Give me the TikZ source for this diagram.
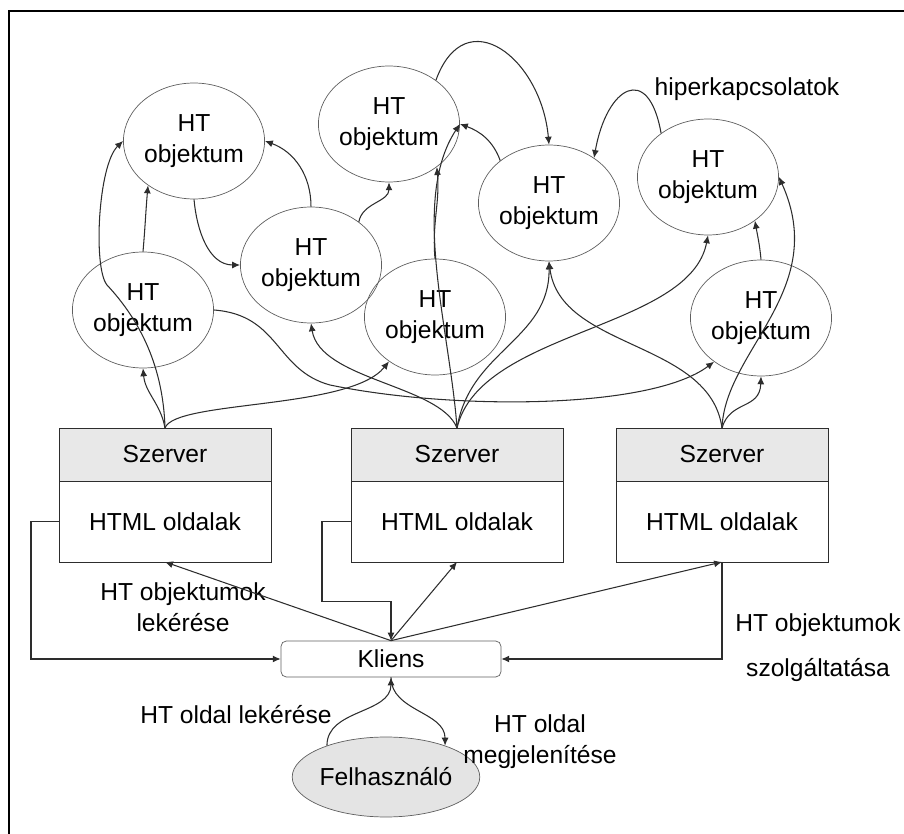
\documentclass[tikz,border=0pt]{standalone}
\usepackage{fontspec}
\setmainfont{Liberation Sans}
\usetikzlibrary{arrows.meta,positioning,shapes.geometric}
\definecolor{keret}{RGB}{95,95,95}
\definecolor{vonal}{RGB}{45,45,45}
\definecolor{fejlec}{RGB}{232,232,232}
\definecolor{felhszin}{RGB}{228,228,228}

\tikzset{
	objektum/.style={ellipse, draw=keret, minimum width=2.64cm, minimum height=2.32cm, inner sep=0pt, align=center},
	szfej/.style={rectangle, draw=vonal, fill=fejlec, minimum width=4.24cm, minimum height=1.06cm, outer sep=0pt},
	szlap/.style={rectangle, draw=vonal, fill=white, minimum width=4.24cm, minimum height=1.62cm, outer sep=0pt},
	kapocs/.style={vonal, line width=0.6pt, ->},
	felirat/.style={align=center, inner sep=0pt},
}

\begin{document}
\begin{tikzpicture}[x=0.02cm, y=-0.02cm, >={Latex[length=4.5pt,width=4pt]}, font=\fontsize{14}{17.6}\selectfont]

	\useasboundingbox (0,0) rectangle (904,834);
	\draw[line width=1pt] (9,834) -- (9,11) -- (904,11);

	% HT objektumok
	\node[objektum] (ht1) at (194,141) {HT\\objektum};
	\node[objektum] (ht2) at (143,310) {HT\\objektum};
	\node[objektum] (ht3) at (311,265) {HT\\objektum};
	\node[objektum] (ht4) at (389,124) {HT\\objektum};
	\node[objektum] (ht5) at (435,317) {HT\\objektum};
	\node[objektum] (ht6) at (549,203) {HT\\objektum};
	\node[objektum] (ht7) at (708,177) {HT\\objektum};
	\node[objektum] (ht8) at (761,318) {HT\\objektum};

	\node[felirat] (hiper) at (747,89) {hiperkapcsolatok};

	% szerverek
	\foreach \i/\x in {1/165,2/457,3/722}{
		\node[szfej] (szerver\i) at (\x,454.5) {Szerver};
		\node[szlap, below=0pt of szerver\i] (oldalak\i) {HTML oldalak};
	}

	\node[draw=keret, rounded corners=3pt, minimum width=4.4cm, minimum height=0.72cm] (kliens) at (391,659) {Kliens};
	\node[ellipse, draw=keret, fill=felhszin, minimum width=3.2cm, minimum height=1.6cm, inner sep=0pt] (felh) at (386,777) {Felhasználó};

	\node[felirat] (lekeres) at (183,607) {HT objektumok\\lekérése};
	\node[felirat] (szolg) at (818,648) {HT objektumok\\[8pt]szolgáltatása};
	\node[felirat] (oldlek) at (236,715) {HT oldal lekérése};
	\node[felirat] (megj) at (540,742) {HT oldal\\megjelenítése};

	% szerver 1
	\draw[kapocs] (szerver1.north) to[out=100,in=-85] (ht2.south);
	\draw[kapocs] (szerver1.north) .. controls (163,360) and (135,315) .. (107,285) .. controls (93,268) and (98,165) .. (ht1.west);
	\draw[kapocs] (szerver1.north) .. controls (175,400) and (350,410) .. (ht5.224);

	% szerver 2
	\draw[kapocs] (szerver2.north) .. controls (440,385) and (320,380) .. (ht3.south);
	\draw[kapocs] (szerver2.north) .. controls (450,330) and (410,200) .. (ht4.east);
	\draw[kapocs] (szerver2.north) .. controls (470,350) and (550,340) .. (ht6.south);
	\draw[kapocs] (szerver2.north) .. controls (480,330) and (690,330) .. (ht7.south);

	% szerver 3
	\draw[kapocs] (szerver3.north) .. controls (730,400) and (760,410) .. (ht8.south);
	\draw[kapocs] (szerver3.north) .. controls (725,350) and (830,290) .. (ht7.east);
	\draw[kapocs] (szerver3.north) .. controls (710,340) and (560,350) .. (ht6.south);

	% hiperkapcsolatok
	\draw[kapocs] (ht2.north) to[out=85,in=-95] (ht1.224);
	\draw[kapocs] (ht1.south) to[out=-85,in=180] (ht3.west);
	\draw[kapocs] (ht3.north) to[out=90,in=-20] (ht1.east);
	\draw[kapocs] (ht3.42) to[out=80,in=-90] (ht4.south);
	\draw[kapocs] (ht5.north) to[out=95,in=-85] (ht4.-42);
	\draw[kapocs] (ht6.139) to[out=110,in=-20] (ht4.east);
	\draw[kapocs] (ht4.43) to[out=70,in=95,looseness=1.7] (ht6.north);
	\draw[kapocs] (ht7.137) to[out=100,in=80,looseness=2.6] (ht6.45);
	\draw[kapocs] (ht8.north) to[out=95,in=-80] (ht7.-43);
	\draw[kapocs] (ht2.east) .. controls (280,315) and (275,370) .. (330,385) .. controls (450,410) and (650,410) .. (ht8.223);

	% kliens
	\draw[kapocs] (oldalak1.west) -- ++(-28,0) |- (kliens.west);
	\draw[kapocs] (oldalak2.west) -- ++(-29,0) -- ++(0,80) -| (kliens.north);
	\draw[kapocs] (oldalak3.south) |- (kliens.east);
	\foreach \i in {1,2,3}
		\draw[kapocs] (kliens.north) -- (oldalak\i.south);

	\draw[kapocs] (felh.152) to[out=90,in=-90] (kliens.south);
	\draw[kapocs] (kliens.south) to[out=-90,in=90] (felh.28);

\end{tikzpicture}
\end{document}
